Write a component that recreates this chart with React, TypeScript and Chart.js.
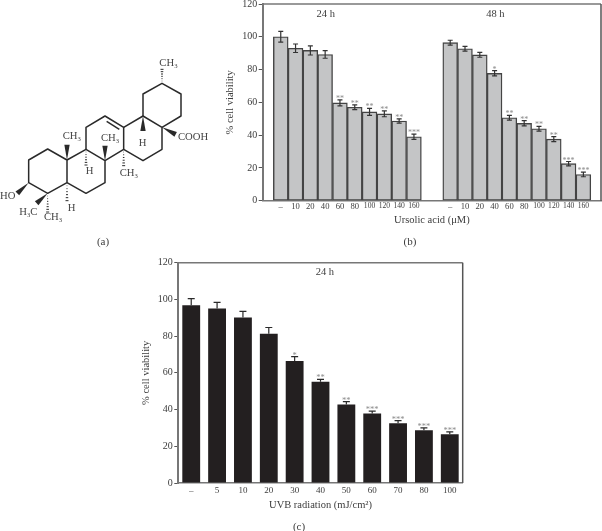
import React, { useEffect, useRef } from "react";
import { Chart, registerables } from "chart.js";

Chart.register(...registerables);

const FONT = "'Liberation Serif', serif";
const TEXT = "#3c3c3c";
const AXIS = "#777777";

const doseLabels = ["–", "10", "20", "40", "60", "80", "100", "120", "140", "160"];
const viability24h = [100, 93, 91.7, 89.2, 59.7, 57, 54.2, 53, 48.6, 39];
const error24h = [3.3, 2.6, 2.8, 2.3, 1.8, 1.4, 2.1, 1.8, 1.3, 1.6];
const stars24h = ["", "", "", "", "**", "**", "**", "**", "**", "***"];
const viability48h = [96.4, 92.7, 89, 77.7, 50.6, 47.2, 43.9, 37.6, 22.6, 16];
const error48h = [1.5, 1.4, 1.5, 1.6, 1.5, 1.6, 1.5, 1.5, 1.3, 1.4];
const stars48h = ["", "", "", "*", "**", "**", "**", "**", "***", "***"];

const uvbLabels = ["–", "5", "10", "20", "30", "40", "50", "60", "70", "80", "100"];
const uvbViability = [96.8, 95.1, 90.2, 81.3, 66.4, 55.2, 42.8, 37.8, 32.5, 28.7, 26.5];
const uvbError = [3.6, 3.3, 3.3, 3.4, 2.4, 1.3, 1.5, 1.3, 1.5, 1.3, 1.3];
const uvbStars = ["", "", "", "", "*", "**", "**", "***", "***", "***", "***"];

const GROUP_GAP = 11.45;

type Marks = { errors: number[]; stars: string[] }[];

const marksPlugin = (
  marks: Marks,
  opts: { both: boolean; cap: number; star: number; rightColor: string; notes: { text: string; x: number; y: number }[]; color: string }
) => ({
  id: "marks",
  afterDatasetsDraw(chart: any) {
    const { ctx, chartArea: a, scales } = chart;
    ctx.save();
    ctx.strokeStyle = AXIS;
    ctx.lineWidth = 1.5;
    ctx.beginPath();
    ctx.moveTo(a.left, a.top);
    ctx.lineTo(a.right, a.top);
    ctx.stroke();
    ctx.strokeStyle = opts.rightColor;
    ctx.beginPath();
    ctx.moveTo(a.right, a.top);
    ctx.lineTo(a.right, a.bottom);
    ctx.stroke();
    marks.forEach((m, di) => {
      const meta = chart.getDatasetMeta(di);
      meta.data.forEach((bar: any, i: number) => {
        const v = chart.data.datasets[di].data[i];
        const val = typeof v === "number" ? v : v.y;
        const hi = scales.y.getPixelForValue(val + m.errors[i]);
        const lo = scales.y.getPixelForValue(opts.both ? val - m.errors[i] : val);
        ctx.strokeStyle = opts.color;
        ctx.lineWidth = 1.2;
        ctx.beginPath();
        ctx.moveTo(bar.x, lo);
        ctx.lineTo(bar.x, hi);
        ctx.moveTo(bar.x - opts.cap / 2, hi);
        ctx.lineTo(bar.x + opts.cap / 2, hi);
        if (opts.both) {
          ctx.moveTo(bar.x - opts.cap / 2, lo);
          ctx.lineTo(bar.x + opts.cap / 2, lo);
        }
        ctx.stroke();
        if (m.stars[i]) {
          ctx.fillStyle = "#8a8a8a";
          ctx.font = `${opts.star}px ${FONT}`;
          ctx.textAlign = "center";
          ctx.textBaseline = "alphabetic";
          ctx.fillText(m.stars[i], bar.x, hi + 1);
        }
      });
    });
    ctx.fillStyle = TEXT;
    ctx.font = `10.5px ${FONT}`;
    ctx.textAlign = "center";
    ctx.textBaseline = "middle";
    opts.notes.forEach((n) => ctx.fillText(n.text, scales.x.getPixelForValue(n.x), n.y));
    ctx.restore();
  },
});

const yAxis = (width: number) => ({
  min: 0,
  max: 120,
  afterFit(s: any) {
    s.width = width;
    s.paddingTop = 0;
    s.paddingBottom = 0;
  },
  ticks: { stepSize: 20, color: TEXT, padding: 1.5, font: { family: FONT, size: 10 } },
  grid: { drawOnChartArea: false, drawTicks: true, tickLength: 4, color: "#555555", tickWidth: 1 },
  border: { color: AXIS, width: 2 },
  title: { display: true, text: "% cell viability", color: TEXT, padding: 0, font: { family: FONT, size: 10.5 } },
});

const Hash = ({ x1, y1, x2, y2, n = 6, w = 9 }: any) => {
  const dx = x2 - x1;
  const dy = y2 - y1;
  const len = Math.hypot(dx, dy);
  const px = -dy / len;
  const py = dx / len;
  const items = [];
  for (let i = 1; i <= n; i++) {
    const t = i / n;
    const h = (w * t) / 2;
    items.push(
      <line key={i} x1={x1 + dx * t + px * h} y1={y1 + dy * t + py * h} x2={x1 + dx * t - px * h} y2={y1 + dy * t - py * h} strokeWidth={3} />
    );
  }
  return <g>{items}</g>;
};

const Wedge = ({ x1, y1, x2, y2, w = 16 }: any) => {
  const dx = x2 - x1;
  const dy = y2 - y1;
  const len = Math.hypot(dx, dy);
  const px = (-dy / len) * (w / 2);
  const py = (dx / len) * (w / 2);
  return <polygon points={`${x1},${y1} ${x2 + px},${y2 + py} ${x2 - px},${y2 - py}`} fill="#2a2a2a" stroke="none" />;
};

const Label = ({ x, y, text, sub, tail }: any) => (
  <text x={x} y={y} fontFamily={FONT} fontSize={32} fill="#444444" stroke="none">
    {text}
    {sub ? (
      <tspan fontSize={20} dy={6}>
        {sub}
      </tspan>
    ) : null}
    {tail ? <tspan dy={-6}>{tail}</tspan> : null}
  </text>
);

const Molecule = () => (
  <svg
    width={220}
    height={230}
    viewBox="0 0 660 690"
    style={{ position: "absolute", left: 0, top: 30, willChange: "transform" }}
    fill="none"
    stroke="#2a2a2a"
    strokeWidth={4.5}
    strokeLinejoin="round"
  >
    <polygon points="86,390 143,357 201,390 201,458 143,490 86,458" />
    <polyline points="201,390 258,358 315,392 315,458 258,490 201,458" />
    <polyline points="258,358 258,292 315,258 371,292 371,358 315,392" />
    <line x1={320} y1={274} x2={358} y2={298} />
    <polyline points="371,292 429,258 486,292 486,358 429,392 371,358" />
    <polyline points="429,258 429,192 486,160 543,192 543,258 486,292" />
    <Wedge x1={86} y1={458} x2={52} y2={490} />
    <Wedge x1={143} y1={490} x2={110} y2={520} />
    <Wedge x1={486} y1={292} x2={527} y2={313} />
    <Wedge x1={429} y1={258} x2={429} y2={303} />
    <Wedge x1={201} y1={390} x2={201} y2={344} />
    <Wedge x1={315} y1={392} x2={315} y2={347} />
    <Hash x1={486} y1={160} x2={486} y2={118} />
    <Hash x1={258} y1={358} x2={258} y2={405} />
    <Hash x1={371} y1={358} x2={371} y2={407} />
    <Hash x1={201} y1={458} x2={201} y2={512} />
    <Hash x1={143} y1={490} x2={143} y2={546} n={7} />
    <Label x={478} y={107} text="CH" sub="3" />
    <Label x={534} y={331} text="COOH" />
    <Label x={416} y={347} text="H" />
    <Label x={188} y={328} text="CH" sub="3" />
    <Label x={303} y={334} text="CH" sub="3" />
    <Label x={257} y={432} text="H" />
    <Label x={359} y={437} text="CH" sub="3" />
    <Label x={203} y={543} text="H" />
    <Label x={0} y={507} text="HO" />
    <Label x={58} y={555} text="H" sub="3" tail="C" />
    <Label x={132} y={571} text="CH" sub="3" />
  </svg>
);

const Caption = ({ x, y, text }: any) => (
  <div
    style={{
      position: "absolute",
      left: x - 20,
      top: y - 7,
      width: 40,
      height: 14,
      lineHeight: "14px",
      textAlign: "center",
      fontFamily: FONT,
      fontSize: 11,
      color: TEXT,
      willChange: "transform",
    }}
  >
    {text}
  </div>
);

export default function App() {
  const bRef = useRef<HTMLCanvasElement>(null);
  const cRef = useRef<HTMLCanvasElement>(null);

  useEffect(() => {
    const first = (v: number, i: number) => ({ x: i, y: v });
    const second = (v: number, i: number) => ({ x: i + GROUP_GAP, y: v });
    const barB = {
      backgroundColor: "#c4c5c6",
      borderColor: "#444444",
      borderWidth: 1.4,
      borderSkipped: false,
      barPercentage: 1,
      categoryPercentage: 1,
      grouped: false,
    };
    const positions = [...doseLabels.map((_, i) => i), ...doseLabels.map((_, i) => i + GROUP_GAP)];
    const chartB = new Chart(bRef.current!, {
      type: "bar",
      data: {
        datasets: [
          { label: "24 h", data: viability24h.map(first), ...barB },
          { label: "48 h", data: viability48h.map(second), ...barB },
        ],
      } as any,
      options: {
        animation: false,
        responsive: false,
        layout: { padding: { left: 223.5, top: 4, right: 1, bottom: 23.5 } },
        plugins: { legend: { display: false }, tooltip: { enabled: false } },
        scales: {
          x: {
            type: "linear",
            offset: false,
            bounds: "data",
            min: -1.22,
            max: 21.64,
            afterBuildTicks(s: any) {
              s.ticks = positions.map((value) => ({ value }));
            },
            afterFit(s: any) {
              s.height = 25.8;
              s.paddingLeft = 0;
              s.paddingRight = 0;
            },
            ticks: {
              autoSkip: false,
              maxRotation: 0,
              color: TEXT,
              padding: 1,
              callback: (_: any, i: number) => doseLabels[i % doseLabels.length],
              font: (c: any) => ({ family: FONT, size: c.tick && String(c.tick.label).length > 2 ? 7.6 : 8.6 }),
            },
            grid: { display: false, drawTicks: false },
            border: { color: AXIS, width: 1.5 },
            title: { display: true, text: "Ursolic acid (μM)", color: TEXT, padding: 0, font: { family: FONT, size: 10.5 } },
          },
          y: yAxis(39.2),
        },
      } as any,
      plugins: [
        marksPlugin(
          [
            { errors: error24h, stars: stars24h },
            { errors: error48h, stars: stars48h },
          ],
          {
            both: true,
            cap: 5,
            star: 8,
            rightColor: "#555555",
            color: "#333333",
            notes: [
              { text: "24 h", x: 3.04, y: 14.7 },
              { text: "48 h", x: 14.5, y: 14.7 },
            ],
          }
        ) as any,
      ],
    });

    const chartC = new Chart(cRef.current!, {
      type: "bar",
      data: {
        labels: uvbLabels,
        datasets: [
          {
            label: "24 h",
            data: uvbViability,
            backgroundColor: "#231f20",
            borderWidth: 0,
            barPercentage: 0.69,
            categoryPercentage: 1,
          },
        ],
      },
      options: {
        animation: false,
        responsive: false,
        layout: { padding: { left: 140, top: 12.7, right: 139.3, bottom: 19.3 } },
        plugins: { legend: { display: false }, tooltip: { enabled: false } },
        scales: {
          x: {
            afterFit(s: any) {
              s.height = 28.7;
              s.paddingLeft = 0;
              s.paddingRight = 0;
            },
            ticks: { autoSkip: false, maxRotation: 0, color: TEXT, padding: 2, font: { family: FONT, size: 9 } },
            grid: { display: false, drawTicks: false },
            border: { color: AXIS, width: 1.5 },
            title: { display: true, text: "UVB radiation (mJ/cm²)", color: TEXT, padding: 0, font: { family: FONT, size: 10.5 } },
          },
          y: yAxis(38.3),
        },
      } as any,
      plugins: [
        marksPlugin([{ errors: uvbError, stars: uvbStars }], {
          both: false,
          cap: 7,
          star: 8.5,
          rightColor: "#555555",
          color: "#2a2a2a",
          notes: [{ text: "24 h", x: 5.17, y: 22 }],
        }) as any,
      ],
    });

    return () => {
      chartB.destroy();
      chartC.destroy();
    };
  }, []);

  return (
    <div style={{ position: "fixed", left: 0, top: 0, width: 602, height: 531, background: "#ffffff", overflow: "hidden" }}>
      <Molecule />
      <canvas ref={bRef} width={602} height={250} style={{ position: "absolute", left: 0, top: 0, width: 602, height: 250 }} />
      <canvas ref={cRef} width={602} height={281} style={{ position: "absolute", left: 0, top: 250, width: 602, height: 281 }} />
      <Caption x={103} y={241} text="(a)" />
      <Caption x={410} y={241} text="(b)" />
      <Caption x={298.7} y={526} text="(c)" />
    </div>
  );
}
